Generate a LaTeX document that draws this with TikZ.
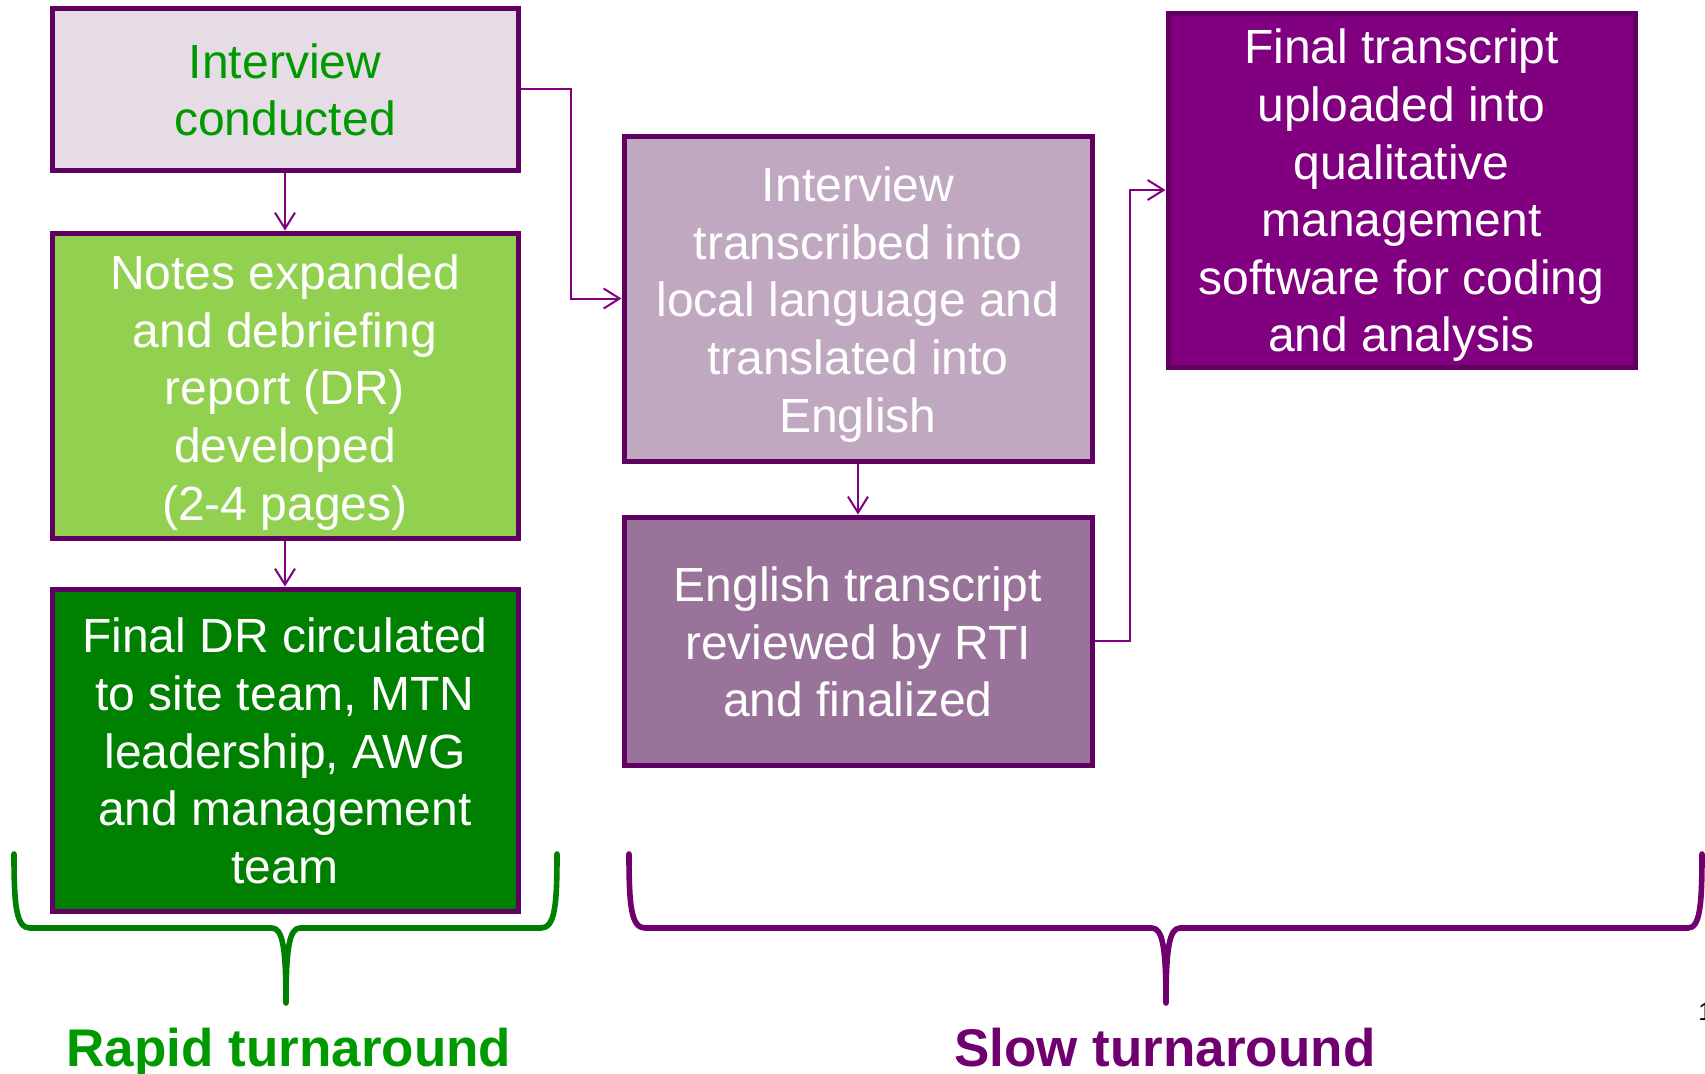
\documentclass[tikz,border=0pt]{standalone}
\usepackage{fontspec}
\setmainfont{Liberation Sans}
\usetikzlibrary{arrows.meta,calc}
\definecolor{bordc}{RGB}{96,0,96}
\definecolor{arrc}{RGB}{128,0,128}
\definecolor{txtgreen}{RGB}{0,153,0}
\definecolor{fillA}{RGB}{230,220,230}
\definecolor{fillB}{RGB}{146,208,80}
\definecolor{fillC}{RGB}{0,128,0}
\definecolor{fillD}{RGB}{192,168,192}
\definecolor{fillE}{RGB}{153,115,153}
\definecolor{fillF}{RGB}{128,0,128}
\definecolor{braceG}{RGB}{0,128,0}
\definecolor{braceP}{RGB}{112,0,112}
\tikzset{
  box/.style={draw=bordc, line width=2.5pt, rectangle, inner sep=0pt},
  btext/.style={inner sep=0pt, align=center, text=white, font=\fontsize{24pt}{28.8pt}\selectfont},
  arr/.style={draw=arrc, line width=1pt, -{Straight Barb[length=8pt,width=10pt]}},
  gbrace/.style={draw=braceG, line width=2.8pt, line cap=round, line join=round},
  pbrace/.style={draw=braceP, line width=2.8pt, line cap=round, line join=round},
  blabel/.style={font=\fontsize{26.5pt}{30pt}\selectfont\bfseries, anchor=base}
}
\begin{document}
\begin{tikzpicture}[x=0.5pt,y=-0.5pt]
\useasboundingbox (0,0) rectangle (1705,1073);
\fill[white] (0,0) rectangle (1705,1073);

\node[box, fill=fillA, minimum width=233pt, minimum height=81pt] (b1) at (285,89) {};
\node[box, fill=fillB, minimum width=233pt, minimum height=152.5pt] (b2) at (285,385.5) {};
\node[box, fill=fillC, minimum width=233pt, minimum height=161pt] (b3) at (285,750) {};
\node[box, fill=fillD, minimum width=234pt, minimum height=162.5pt] (b4) at (858,298.5) {};
\node[box, fill=fillE, minimum width=234pt, minimum height=124pt] (b5) at (858,641) {};
\node[box, fill=fillF, minimum width=233.5pt, minimum height=177pt] (b6) at (1401.5,190) {};

\node[btext, text=txtgreen] (t1) at (285,90) {Interview\\conducted};
\node[btext] (t2) at (285,392.5) {Notes expanded\\and debriefing\\report (DR)\\developed\\(2-4 pages)};
\node[btext] (t3) at (285,751) {Final DR circulated\\to site team, MTN\\leadership, AWG\\and management\\team};
\node[btext] (t4) at (858,304.5) {Interview\\transcribed into\\local language and\\translated into\\English};
\node[btext] (t5) at (858,642) {English transcript\\reviewed by RTI\\and finalized};
\node[btext] (t6) at (1401.5,195.5) {Final transcript\\uploaded into\\qualitative\\management\\software for coding\\and analysis};

\draw[arr] (b1.south) -- (b2.north);
\draw[arr] (b2.south) -- (b3.north);
\draw[arr] (b4.south) -- (b5.north);
\draw[arr] (b1.east) -| ($(b1.east)!0.5!(b4.west)$) |- (b4.west);
\draw[arr] (b5.east) -| ($(b5.east)!0.5!(b6.west)$) |- (b6.west);

% braces
\draw[gbrace] (14,854) .. controls (14,905) and (16,928) .. (30,928) -- (272,928)
  .. controls (283,928) and (286,950) .. (286,1003)
  .. controls (286,950) and (289,928) .. (300,928) -- (541,928)
  .. controls (555,928) and (557,905) .. (557,854);
\draw[pbrace] (629,854) .. controls (629,905) and (631,928) .. (645,928) -- (1152,928)
  .. controls (1163,928) and (1166,950) .. (1166,1003)
  .. controls (1166,950) and (1169,928) .. (1180,928) -- (1688,928)
  .. controls (1700,928) and (1702,905) .. (1702,854);

\node[blabel, text=txtgreen] (rapid) at (289,1066) {Rapid turnaround};
\node[blabel, text=braceP] (slow) at (1165,1066) {Slow turnaround};
\node[anchor=base west, inner sep=0pt, font=\fontsize{12.5pt}{14pt}\selectfont] (pg) at (1698,1020) {1};
\end{tikzpicture}
\end{document}
